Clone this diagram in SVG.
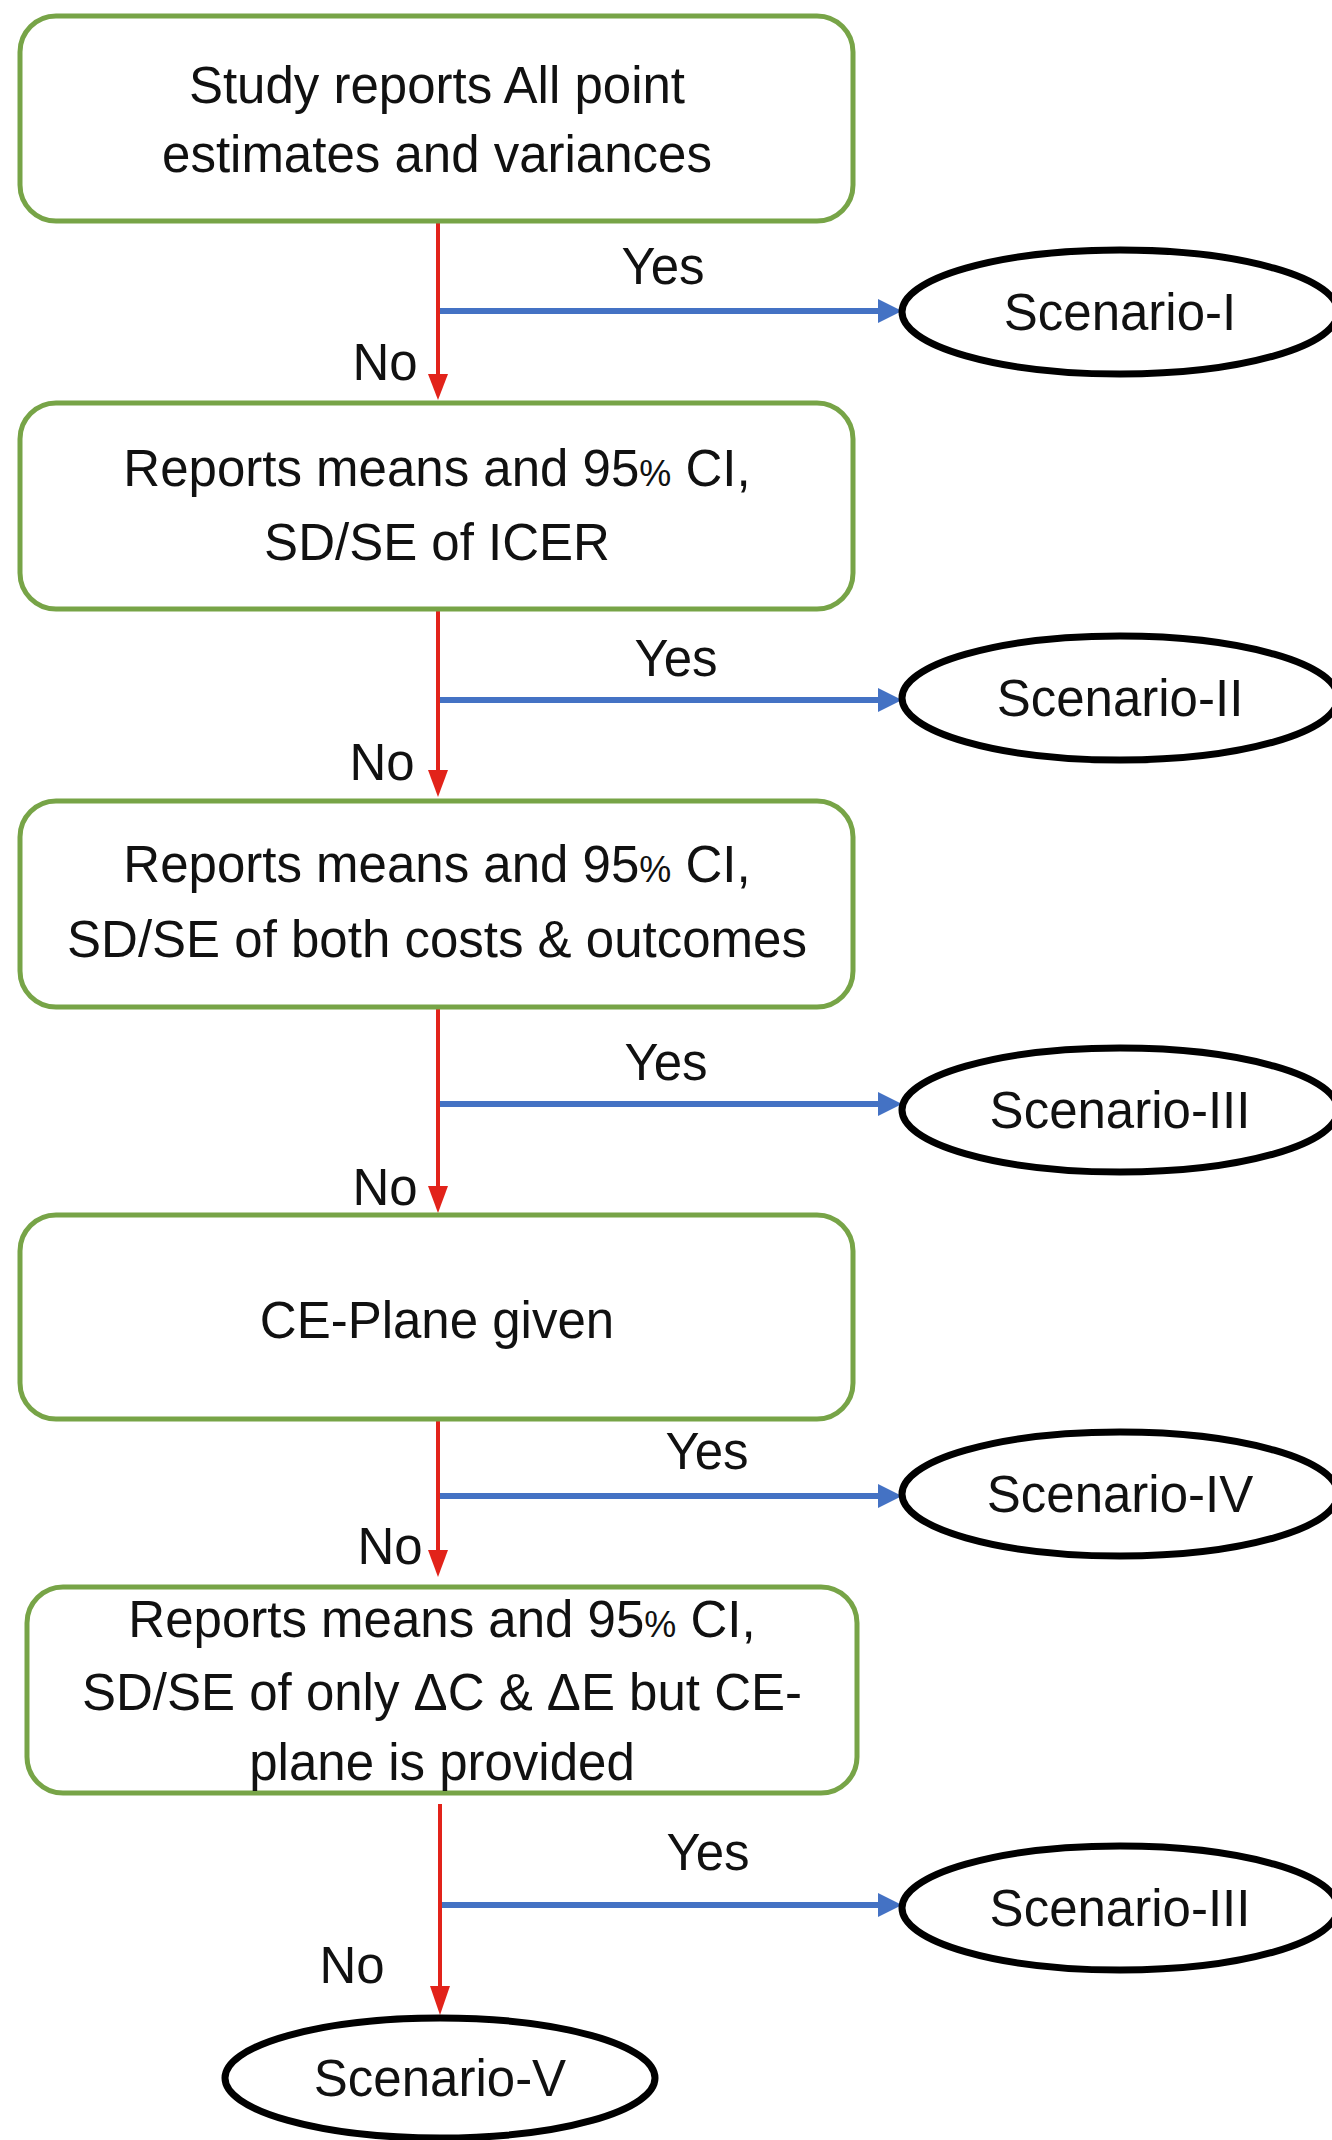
<svg xmlns="http://www.w3.org/2000/svg" width="1332" height="2140" viewBox="0 0 1332 2140">
<defs>
<style>
.box{fill:#fff;stroke:#77A447;stroke-width:5}
.ell{fill:#fff;stroke:#000;stroke-width:7}
.t{font-family:"Liberation Sans",Arial,sans-serif;font-size:51px;fill:#111;text-anchor:middle}
.pc{font-size:36px}
.no{stroke:#E2231A;stroke-width:4;fill:none}
.yes{stroke:#4472C4;stroke-width:6;fill:none}
.ah{fill:#E2231A}
.bh{fill:#4472C4}
</style>
</defs>
<rect width="1332" height="2140" fill="#fff"/>
<g id="connectors">
<path class="no" d="M438,221 V376"/>
<path class="ah" d="M428,374 L448,374 L438,400 Z"/>
<path class="yes" d="M440,311 H880"/>
<path class="bh" d="M878,299 L902,311 L878,323 Z"/>
<path class="no" d="M438,609 V772"/>
<path class="ah" d="M428,770 L448,770 L438,797 Z"/>
<path class="yes" d="M440,700 H880"/>
<path class="bh" d="M878,688 L902,700 L878,712 Z"/>
<path class="no" d="M438,1007 V1188"/>
<path class="ah" d="M428,1186 L448,1186 L438,1213 Z"/>
<path class="yes" d="M440,1104 H880"/>
<path class="bh" d="M878,1092 L902,1104 L878,1116 Z"/>
<path class="no" d="M438,1419 V1552"/>
<path class="ah" d="M428,1550 L448,1550 L438,1577 Z"/>
<path class="yes" d="M440,1496 H880"/>
<path class="bh" d="M878,1484 L902,1496 L878,1508 Z"/>
<path class="no" d="M440,1804 V1988"/>
<path class="ah" d="M430,1986 L450,1986 L440,2015 Z"/>
<path class="yes" d="M442,1905 H880"/>
<path class="bh" d="M878,1893 L902,1905 L878,1917 Z"/>
<text class="t" x="663" y="284">Yes</text>
<text class="t" x="385" y="380">No</text>
<text class="t" x="676" y="676">Yes</text>
<text class="t" x="382" y="780">No</text>
<text class="t" x="666" y="1080">Yes</text>
<text class="t" x="385" y="1205">No</text>
<text class="t" x="707" y="1469">Yes</text>
<text class="t" x="390" y="1564">No</text>
<text class="t" x="708" y="1870">Yes</text>
<text class="t" x="352" y="1983">No</text>
</g>
<g id="n1">
<rect class="box" x="20" y="16" width="833" height="205" rx="36"/>
<text class="t" x="437" y="103">Study reports All point</text>
<text class="t" x="437" y="172">estimates and variances</text>
</g>
<g id="s1">
<ellipse class="ell" cx="1120" cy="312" rx="218" ry="62"/>
<text class="t" x="1120" y="330">Scenario-I</text>
</g>
<g id="n2">
<rect class="box" x="20" y="403" width="833" height="206" rx="36"/>
<text class="t" x="437" y="486">Reports means and 95<tspan class="pc">%</tspan> CI,</text>
<text class="t" x="437" y="560">SD/SE of ICER</text>
</g>
<g id="s2">
<ellipse class="ell" cx="1120" cy="698" rx="218" ry="62"/>
<text class="t" x="1120" y="716">Scenario-II</text>
</g>
<g id="n3">
<rect class="box" x="20" y="801" width="833" height="206" rx="36"/>
<text class="t" x="437" y="882">Reports means and 95<tspan class="pc">%</tspan> CI,</text>
<text class="t" x="437" y="957">SD/SE of both costs &amp; outcomes</text>
</g>
<g id="s3">
<ellipse class="ell" cx="1120" cy="1110" rx="218" ry="62"/>
<text class="t" x="1120" y="1128">Scenario-III</text>
</g>
<g id="n4">
<rect class="box" x="20" y="1215" width="833" height="204" rx="36"/>
<text class="t" x="437" y="1338">CE-Plane given</text>
</g>
<g id="s4">
<ellipse class="ell" cx="1120" cy="1494" rx="218" ry="62"/>
<text class="t" x="1120" y="1512">Scenario-IV</text>
</g>
<g id="n5">
<rect class="box" x="27" y="1587" width="830" height="206" rx="36"/>
<text class="t" x="442" y="1637">Reports means and 95<tspan class="pc">%</tspan> CI,</text>
<text class="t" x="442" y="1710">SD/SE of only ΔC &amp; ΔE but CE-</text>
<text class="t" x="442" y="1780">plane is provided</text>
</g>
<g id="s5">
<ellipse class="ell" cx="1120" cy="1908" rx="218" ry="62"/>
<text class="t" x="1120" y="1926">Scenario-III</text>
</g>
<g id="s6">
<ellipse class="ell" cx="440" cy="2078" rx="215" ry="60"/>
<text class="t" x="440" y="2096">Scenario-V</text>
</g>
</svg>
